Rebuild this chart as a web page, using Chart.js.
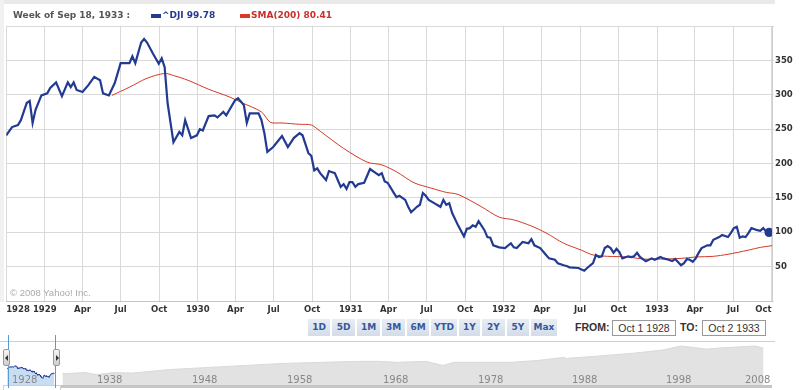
<!DOCTYPE html>
<html lang="en">
  <head>
    <meta charset="UTF-8" />
    <script src="https://cdn.jsdelivr.net/npm/chart.js"></script>
    <title>^DJI 1928 - 1933</title>
    <style>
      body { margin: 0; width: 807px; height: 390px; background: #fff; position: relative; overflow: hidden; font-family: "DejaVu Sans", sans-serif; }
      .abs { position: absolute; }
      #topStrip { left: 0; top: 0; width: 775px; height: 4px; background: #e9e9e9; }
      #leftStrip { left: 0; top: 0; width: 4px; height: 302px; background: #f1f1f1; }
      #header { left: 13px; top: 10px; font-weight: bold; font-size: 9px; color: #555; white-space: nowrap; }
      .legend { top: 10px; font-weight: bold; font-size: 9px; white-space: nowrap; }
      .swatch { top: 14px; width: 10px; height: 4px; }
      #copy { left: 10px; top: 287px; font-family: "Liberation Sans", sans-serif; font-size: 9.5px; color: #aaa; }
      .btn { top: 319px; height: 17px; line-height: 17px; text-align: center; font-weight: bold; font-size: 9px; color: #35579c; background: linear-gradient(#e9eef5, #d3dce8); }
      .lbl { top: 320px; font-family: "Liberation Sans", sans-serif; font-weight: bold; font-size: 10.5px; color: #333; line-height: 15px; }
      .box { top: 320px; width: 62px; height: 14px; border: 1px solid #999; font-family: "Liberation Sans", sans-serif; font-size: 10.5px; color: #333; text-align: center; line-height: 14px; }
      .navLbl { top: 374px; font-size: 10px; color: #888; line-height: 12px; }
      .selLine { top: 335px; width: 1px; height: 53px; background: #5b9bd5; }
      .handle { top: 349px; width: 5px; height: 15px; border: 1px solid #999; border-radius: 2px; background: linear-gradient(#f6f6f6, #cfcfcf); }
      .handle i { position: absolute; top: 5px; left: 1px; width: 0; height: 0; border-top: 3px solid transparent; border-bottom: 3px solid transparent; }
    </style>
  </head>
  <body>
    <div class="abs" style="left:0;top:0;width:807px;height:318px">
      <canvas id="mainChart" width="807" height="318"></canvas>
    </div>
    <div class="abs" id="topStrip"></div>
    <div class="abs" id="leftStrip"></div>
    <div class="abs" id="header">Week of Sep 18, 1933 :</div>
    <div class="abs swatch" style="left:151px;background:#233a91"></div>
    <div class="abs legend" id="djiLegend" style="left:162px;color:#233a91"></div>
    <div class="abs swatch" style="left:240px;background:#d93a26"></div>
    <div class="abs legend" id="smaLegend" style="left:251px;color:#c9302c"></div>
    <div class="abs" id="copy">&copy; 2008 Yahoo! Inc.</div>

    <div id="buttons"></div>
    <div class="abs lbl" style="left:575px">FROM:</div>
    <div class="abs box" style="left:612px">Oct 1 1928</div>
    <div class="abs lbl" style="left:680px">TO:</div>
    <div class="abs box" style="left:702px">Oct 2 1933</div>

    <div class="abs" style="left:0;top:341px;width:775px;height:1px;background:#cfcfcf"></div>
    <div class="abs" style="left:0;top:342px;width:772px;height:44px">
      <canvas id="navChart" width="772" height="44"></canvas>
    </div>
    <div class="abs" style="left:60px;top:385px;width:712px;height:3px;background:#c6c6c6"></div>
    <div class="abs" style="left:3px;top:385px;width:56px;height:4px;border:1px solid #cfcfcf;border-bottom:none"></div>
    <div id="navLabels"></div>
    <div class="abs selLine" style="left:8px"></div>
    <div class="abs selLine" style="left:55px"></div>
    <div class="abs handle" style="left:3px"><i style="border-right:3px solid #333"></i></div>
    <div class="abs handle" style="left:53px"><i style="border-left:3px solid #333;left:2px"></i></div>

    <script>
      // weekly closes, week 0 = Oct 1 1928
      const djiWeeks = [0, 2, 4, 5, 7, 8, 9, 10, 12, 14, 15, 17, 19, 21, 22, 23, 24, 26, 28, 30, 32, 33, 35, 37, 39, 41, 42, 43, 44, 46, 47, 48, 50, 52, 53, 54, 55, 57, 59, 60, 61, 63, 65, 66, 67, 69, 71, 72, 74, 75, 78, 79, 81, 82, 83, 86, 87, 88, 89, 91, 94, 96, 98, 100, 101, 103, 104, 105, 106, 107, 109, 110, 112, 113, 114, 115, 116, 117, 118, 119, 120, 122, 124, 126, 127, 128, 129, 130, 132, 133, 134, 136, 137, 138, 140, 141, 142, 143, 144, 146, 148, 149, 150, 151, 152, 154, 156, 157, 158, 159, 160, 161, 163, 164, 165, 166, 168, 170, 172, 173, 174, 176, 178, 179, 180, 182, 184, 185, 187, 188, 190, 191, 192, 195, 197, 198, 200, 201, 202, 203, 204, 205, 206, 207, 208, 209, 210, 212, 213, 214, 215, 216, 217, 218, 220, 221, 223, 224, 225, 227, 228, 230, 231, 232, 233, 234, 235, 236, 237, 239, 240, 241, 243, 244, 246, 247, 248, 249, 250, 251, 252, 253, 254, 256, 257, 258, 259, 260];
      const djiValues = [241, 253, 256, 263, 288, 291, 259, 278, 299, 302, 310, 318, 298, 318, 311, 318, 307, 304, 314, 326, 321, 302, 299, 317, 346, 346, 346, 356, 346, 376, 381, 376, 360, 345, 353, 340, 288, 231, 246, 241, 263, 237, 241, 250, 248, 269, 270, 267, 275, 270, 292, 295, 285, 259, 273, 273, 263, 244, 217, 224, 240, 224, 237, 244, 241, 215, 211, 190, 193, 186, 176, 189, 186, 176, 166, 170, 163, 173, 173, 166, 170, 172, 192, 186, 183, 186, 174, 172, 158, 151, 153, 147, 137, 129, 137, 140, 157, 153, 147, 142, 137, 147, 140, 142, 128, 110, 94, 105, 106, 110, 108, 116, 103, 93, 92, 81, 78, 77, 84, 78, 77, 86, 84, 90, 81, 77, 67, 62, 60, 55, 52, 51, 49, 48, 44, 48, 55, 67, 64, 65, 77, 80, 77, 70, 76, 71, 62, 65, 64, 65, 70, 64, 61, 58, 62, 60, 64, 62, 61, 58, 61, 52, 55, 61, 60, 57, 62, 70, 77, 81, 81, 89, 93, 96, 93, 99, 106, 108, 92, 94, 93, 99, 106, 103, 102, 106, 101, 99.78];

      // 200-day moving average
      const smaWeeks = [36, 42, 48, 54, 57, 62, 69, 76, 80, 87, 90, 94, 100, 104, 107, 115, 123, 128, 133, 139, 145, 150, 154, 162, 168, 173, 179, 184, 190, 196, 200, 205, 212, 217, 223, 230, 235, 241, 246, 253, 257, 261];
      const smaValues = [299, 311, 324, 331, 328, 321, 308, 297, 289, 275, 260, 259, 257, 256, 247, 222, 202, 198, 188, 172, 164, 158, 155, 137, 122, 118, 109, 99, 84, 74, 67, 65, 64, 61, 61, 62, 64, 65, 68, 74, 78, 80.41];

      const tickLabels = ["1928", "1929", "Apr", "Jul", "Oct", "1930", "Apr", "Jul", "Oct", "1931", "Apr", "Jul", "Oct", "1932", "Apr", "Jul", "Oct", "1933", "Apr", "Jul", "Oct"];

      // navigator: long-range history behind the selected window
      const navYears = [1934.6, 1935, 1937, 1938.2, 1940, 1942, 1946, 1948, 1952, 1956, 1958, 1962, 1966, 1968, 1970, 1973, 1974.8, 1976, 1978, 1982, 1985, 1987.7, 1987.8, 1988, 1991, 1995, 1997, 1998, 2000, 2002.7, 2004, 2007.8, 2008.7];
      const navValues = [100, 100, 119, 84, 119, 109, 200, 239, 338, 480, 571, 680, 809, 809, 680, 809, 403, 680, 680, 680, 963, 1626, 1148, 1366, 1936, 3266, 4634, 5520, 11090, 6564, 7816, 11090, 7816];
      const navTickYears = [1928, 1938, 1948, 1958, 1968, 1978, 1988, 1998, 2008];
      const rangeButtons = ["1D", "5D", "1M", "3M", "6M", "YTD", "1Y", "2Y", "5Y", "Max"];

      const navy = "#233a91";
      const red = "#d23a26";
      const weekMs = 7 * 864e5;
      const start = Date.UTC(1928, 9, 1);

      // quarter starts, in weeks from start
      const quarterWeeks = tickLabels.map((l, i) => (Date.UTC(1928, 9 + 3 * i, 1) - start) / weekMs);

      document.getElementById("djiLegend").textContent = "^DJI " + djiValues[djiValues.length - 1].toFixed(2);
      document.getElementById("smaLegend").textContent = "SMA(200) " + smaValues[smaValues.length - 1].toFixed(2);

      // range buttons
      const btnLeft = [308, 332, 357, 382, 407, 431, 459, 482, 507, 531];
      const btnWidth = [22, 23, 23, 23, 22, 26, 21, 23, 22, 26];
      let html = "";
      rangeButtons.forEach((b, i) => {
        html += `<div class="abs btn" style="left:${btnLeft[i]}px;width:${btnWidth[i]}px">${b}</div>`;
      });
      document.getElementById("buttons").innerHTML = html;

      const mainData = {
        datasets: [
          {
            label: "^DJI",
            data: djiWeeks.map((w, i) => ({ x: w, y: djiValues[i] })),
            borderColor: navy,
            backgroundColor: navy,
            borderWidth: 2.2,
            pointRadius: djiWeeks.map((w, i) => (i === djiWeeks.length - 1 ? 3.5 : 0)),
            tension: 0,
          },
          {
            label: "SMA(200)",
            data: smaWeeks.map((w, i) => ({ x: w, y: smaValues[i] })),
            borderColor: red,
            borderWidth: 1,
            pointRadius: 0,
            tension: 0.3,
          },
        ],
      };

      new Chart(document.getElementById("mainChart"), {
        type: "line",
        data: mainData,
        options: {
          responsive: false,
          animation: false,
          layout: { padding: { left: 5, top: 26, right: 0, bottom: 0 } },
          plugins: { legend: { display: false }, tooltip: { enabled: false } },
          scales: {
            x: {
              type: "linear",
              min: 0,
              max: 261,
              afterBuildTicks: (axis) => {
                axis.ticks = quarterWeeks.map((v) => ({ value: v }));
              },
              afterFit: (axis) => {
                axis.height = 17;
              },
              ticks: {
                callback: (v, i) => tickLabels[i],
                align: "inner",
                autoSkip: false,
                maxRotation: 0,
                padding: 4,
                color: "#333",
                font: { family: "DejaVu Sans", size: 8.5, weight: "bold" },
              },
              grid: { color: "#d9d9d9", drawTicks: false },
              border: { color: "#c4c4c4", width: 1 },
            },
            y: {
              position: "right",
              min: 0,
              max: 400,
              afterFit: (axis) => {
                axis.width = 35;
              },
              ticks: {
                stepSize: 50,
                callback: (v) => (v === 0 || v === 400 ? "" : v),
                padding: 1,
                color: "#333",
                font: { family: "DejaVu Sans", size: 8.5, weight: "bold" },
              },
              grid: { color: "#d9d9d9", tickLength: 2 },
              border: { color: "#cfcfcf" },
            },
          },
        },
      });

      // navigator
      const selYears = djiWeeks.map((w) => 1928.75 + w / 52.18);
      new Chart(document.getElementById("navChart"), {
        type: "line",
        data: {
          datasets: [
            {
              data: navYears.map((y, i) => ({ x: y, y: navValues[i] })),
              borderColor: "#d9d9d9",
              borderWidth: 1,
              backgroundColor: "#e2e2e2",
              fill: "start",
              pointRadius: 0,
            },
            {
              data: selYears.map((y, i) => ({ x: y, y: djiValues[i] })),
              borderColor: navy,
              borderWidth: 1,
              backgroundColor: "#c9ddf2",
              fill: "start",
              pointRadius: 0,
            },
          ],
        },
        options: {
          responsive: false,
          animation: false,
          layout: { padding: 0 },
          plugins: { legend: { display: false }, tooltip: { enabled: false } },
          scales: {
            x: {
              type: "linear",
              min: 1928,
              max: 2009.6,
              z: 1,
              afterBuildTicks: (axis) => {
                axis.ticks = navTickYears.slice(1).map((v) => ({ value: v }));
              },
              afterFit: (axis) => {
                axis.height = 0;
              },
              ticks: { display: false },
              grid: { color: "#ffffff", lineWidth: 3, drawTicks: false },
              border: { display: false },
            },
            y: { type: "logarithmic", min: 12, max: 22000, display: false },
          },
        },
      });

      // navigator year labels
      const navLblLeft = [12, 97, 192, 287, 383, 478, 572, 666, 745];
      let nl = "";
      navTickYears.forEach((y, i) => {
        nl += `<div class="abs navLbl" style="left:${navLblLeft[i]}px">${y}</div>`;
      });
      document.getElementById("navLabels").innerHTML = nl;
    </script>
  </body>
</html>
